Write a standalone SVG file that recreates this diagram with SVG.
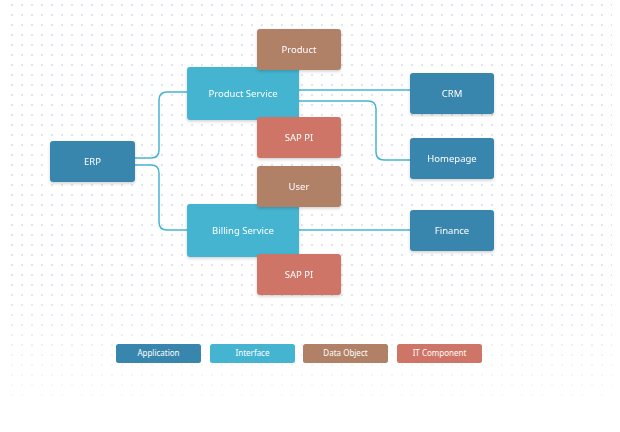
<svg xmlns="http://www.w3.org/2000/svg" width="620" height="432" viewBox="0 0 620 432">
  <defs>
    <style>
      .app{fill:#3886ad}
      .itf{fill:#45b4d0}
      .dob{fill:#b08166}
      .itc{fill:#cf7567}
      .lbl{font-family:"Noto Sans","Open Sans","Liberation Sans",sans-serif;font-size:9.5px;fill:#ffffff;text-anchor:middle}
      .leg{font-family:"Noto Sans","Open Sans","Liberation Sans",sans-serif;font-size:8px;fill:#ffffff;text-anchor:middle}
      .conn{fill:none;stroke:#45b4d0;stroke-width:1.5}
    </style>
    <pattern id="dots" x="0" y="0" width="10" height="10" patternUnits="userSpaceOnUse">
      <circle cx="2" cy="5" r="1.1" fill="#d9deeb"/>
    </pattern>
    <linearGradient id="fadeV" x1="0" y1="0" x2="0" y2="1">
      <stop offset="0" stop-color="#fff"/>
      <stop offset="0.7" stop-color="#fff"/>
      <stop offset="1" stop-color="#fff" stop-opacity="0.15"/>
    </linearGradient>
    <mask id="fadeMask" maskUnits="userSpaceOnUse" x="0" y="0" width="620" height="432">
      <rect x="0" y="0" width="620" height="400" fill="url(#fadeV)"/>
    </mask>
    <filter id="sh" x="-20%" y="-20%" width="140%" height="150%">
      <feDropShadow dx="0" dy="1.5" stdDeviation="1.5" flood-color="#000" flood-opacity="0.18"/>
    </filter>
  </defs>

  <rect x="0" y="0" width="620" height="432" fill="#ffffff"/>
  <rect x="8" y="0" width="604" height="396" fill="url(#dots)" mask="url(#fadeMask)"/>

  <g id="connectors">
    <path class="conn" d="M135,158 H151 Q159,158 159,150 V100 Q159,92 167,92 H187"/>
    <path class="conn" d="M135,165 H151 Q159,165 159,173 V222 Q159,230 167,230 H187"/>
    <path class="conn" d="M299,90 H410"/>
    <path class="conn" d="M299,101 H368 Q376,101 376,109 V152 Q376,160 384,160 H410"/>
    <path class="conn" d="M299,230 H410"/>
  </g>

  <g id="erp" filter="url(#sh)">
    <rect class="app" x="50" y="141" width="85" height="41" rx="3"/>
    <text class="lbl" x="92.5" y="164.8">ERP</text>
  </g>
  <g id="product-service" filter="url(#sh)">
    <rect class="itf" x="187" y="67" width="112" height="53" rx="3"/>
    <text class="lbl" x="243" y="96.8">Product Service</text>
  </g>
  <g id="billing-service" filter="url(#sh)">
    <rect class="itf" x="187" y="204" width="112" height="53" rx="3"/>
    <text class="lbl" x="243" y="233.8">Billing Service</text>
  </g>
  <g id="product" filter="url(#sh)">
    <rect class="dob" x="257" y="29" width="84" height="41" rx="3"/>
    <text class="lbl" x="299" y="52.8">Product</text>
  </g>
  <g id="sap-pi-1" filter="url(#sh)">
    <rect class="itc" x="257" y="117" width="84" height="41" rx="3"/>
    <text class="lbl" x="299" y="140.8">SAP PI</text>
  </g>
  <g id="user" filter="url(#sh)">
    <rect class="dob" x="257" y="166" width="84" height="41" rx="3"/>
    <text class="lbl" x="299" y="189.8">User</text>
  </g>
  <g id="sap-pi-2" filter="url(#sh)">
    <rect class="itc" x="257" y="254" width="84" height="41" rx="3"/>
    <text class="lbl" x="299" y="277.8">SAP PI</text>
  </g>
  <g id="crm" filter="url(#sh)">
    <rect class="app" x="410" y="73" width="84" height="41" rx="3"/>
    <text class="lbl" x="452" y="96.8">CRM</text>
  </g>
  <g id="homepage" filter="url(#sh)">
    <rect class="app" x="410" y="138" width="84" height="41" rx="3"/>
    <text class="lbl" x="452" y="161.8">Homepage</text>
  </g>
  <g id="finance" filter="url(#sh)">
    <rect class="app" x="410" y="210" width="84" height="41" rx="3"/>
    <text class="lbl" x="452" y="233.8">Finance</text>
  </g>

  <g id="legend">
    <g id="legend-application">
      <rect class="app" x="116" y="344" width="85" height="19" rx="2.5"/>
      <text class="leg" x="158.5" y="356.3">Application</text>
    </g>
    <g id="legend-interface">
      <rect class="itf" x="210" y="344" width="85" height="19" rx="2.5"/>
      <text class="leg" x="252.5" y="356.3">Interface</text>
    </g>
    <g id="legend-data-object">
      <rect class="dob" x="303" y="344" width="85" height="19" rx="2.5"/>
      <text class="leg" x="345.5" y="356.3">Data Object</text>
    </g>
    <g id="legend-it-component">
      <rect class="itc" x="397" y="344" width="85" height="19" rx="2.5"/>
      <text class="leg" x="439.5" y="356.3">IT Component</text>
    </g>
  </g>
</svg>
